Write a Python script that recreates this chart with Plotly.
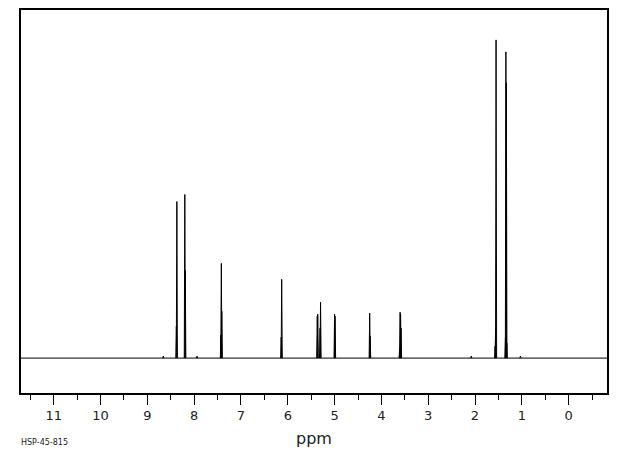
import plotly.graph_objects as go

# Peak list: chemical shift (ppm) and line height (arbitrary units, baseline = 0)
peak_ppm = [8.66, 8.38, 8.37, 8.20, 8.19, 7.94, 7.43, 7.42, 7.41, 6.14, 6.13,
            5.37, 5.36, 5.31, 5.30, 5.00, 4.99, 4.25, 4.24, 3.61, 3.60, 3.59, 3.58,
            2.08, 1.57, 1.56, 1.55, 1.35, 1.34, 1.33, 1.32, 1.03]
peak_int = [2, 32, 157, 164, 88, 2, 23, 95, 47, 21, 79,
            42, 44, 30, 56, 44, 42, 45, 22, 10, 46, 44, 30,
            2, 12, 30, 319, 20, 307, 276, 15, 2]

x_range = [11.70, -0.82]
y_range = [-35, 349]
tick_vals = list(range(0, 12))
tick_text = [str(v) for v in tick_vals]
label_code = "HSP-45-815"

# sticks
sx, sy = [], []
for p, h in zip(peak_ppm, peak_int):
    sx += [p + 0.012, p, p - 0.012, None]
    sy += [0, h, 0, None]

fig = go.Figure()
fig.add_trace(go.Scatter(x=x_range, y=[0, 0], mode="lines",
                         line=dict(color="black", width=1), hoverinfo="skip"))
fig.add_trace(go.Scatter(x=sx, y=sy, mode="lines",
                         line=dict(color="black", width=1), hoverinfo="skip"))

fig.update_layout(
    width=612, height=447,
    margin=dict(l=13, r=13, t=1.5, b=62),
    paper_bgcolor="white", plot_bgcolor="white",
    showlegend=False,
    font=dict(family="DejaVu Sans", color="black"),
    xaxis=dict(range=x_range, tickmode="array", tickvals=tick_vals, ticktext=tick_text,
               ticks="outside", ticklen=10, tickwidth=1, tickcolor="black",
               showline=True, linecolor="black", linewidth=1.5, mirror=True,
               showgrid=False, zeroline=False,
               tickfont=dict(size=13, color="#222"),
               minor=dict(dtick=0.5, tick0=0, ticks="outside", ticklen=5,
                          tickcolor="black", tickwidth=1, showgrid=False),
               title=dict(text="ppm", font=dict(size=16, color="#222"), standoff=10)),
    yaxis=dict(range=y_range, showticklabels=False, ticks="",
               showline=True, linecolor="black", linewidth=1.5, mirror=True,
               showgrid=False, zeroline=False),
)
fig.add_annotation(text=label_code, xref="paper", yref="paper", x=-0.003, y=-0.128,
                   xanchor="left", yanchor="middle", showarrow=False,
                   font=dict(size=8, color="#222"))

fig.write_html("out.html")
